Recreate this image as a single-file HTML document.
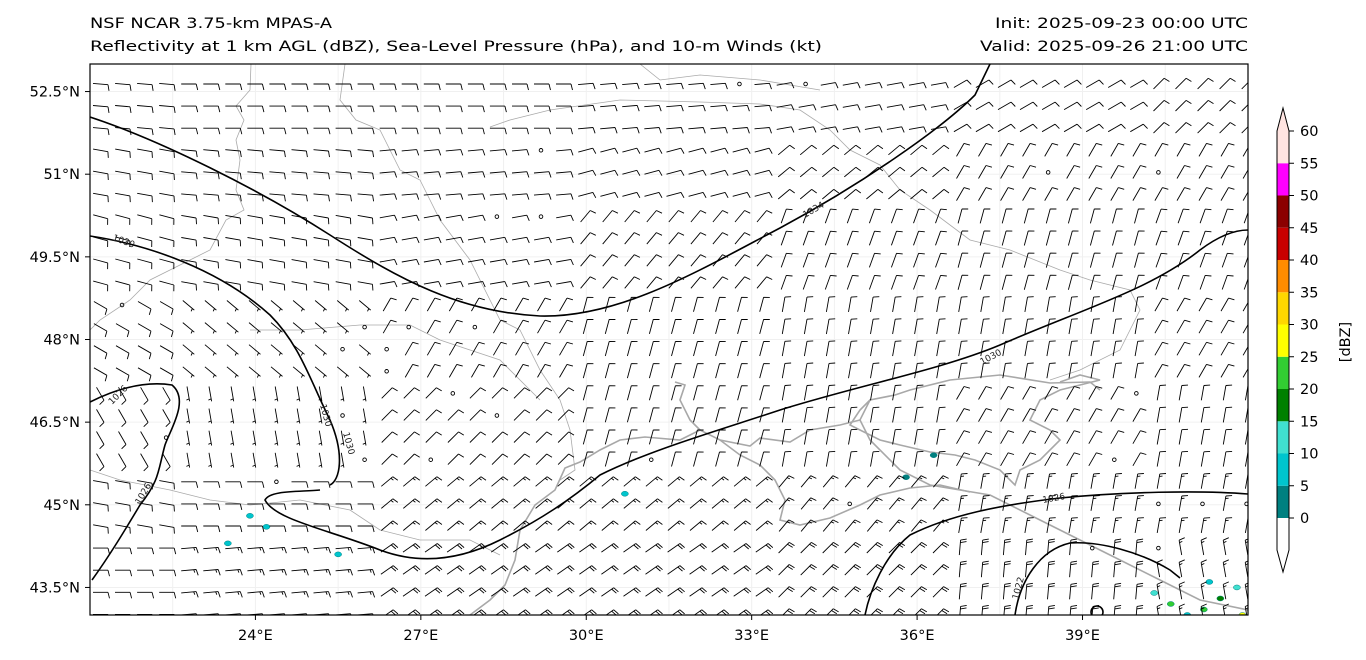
<!DOCTYPE html>
<html><head><meta charset="utf-8">
<style>
body{margin:0;background:#fff;width:1366px;height:660px;overflow:hidden;font-family:"DejaVu Sans","Liberation Sans",sans-serif}
svg{position:absolute;left:0;top:0}
text{font-family:"DejaVu Sans","Liberation Sans",sans-serif}
</style></head><body>
<svg id="s" width="1366" height="660">
<text x="90" y="28" font-size="14.5" textLength="242" lengthAdjust="spacingAndGlyphs">NSF NCAR 3.75-km MPAS-A</text>
<text x="90" y="51" font-size="14.5" textLength="732" lengthAdjust="spacingAndGlyphs">Reflectivity at 1 km AGL (dBZ), Sea-Level Pressure (hPa), and 10-m Winds (kt)</text>
<text x="995" y="28" font-size="14.5" textLength="253" lengthAdjust="spacingAndGlyphs">Init: 2025-09-23 00:00 UTC</text>
<text x="980" y="51" font-size="14.5" textLength="268" lengthAdjust="spacingAndGlyphs">Valid: 2025-09-26 21:00 UTC</text>
<defs><clipPath id="c"><rect x="90" y="64" width="1158" height="551"/></clipPath></defs>
<g id="grid" clip-path="url(#c)"></g>
<g clip-path="url(#c)" fill="none" stroke="#aaa" stroke-width="0.8">
<path d="M251,64 L250,90 L236,106 L244,120 L236,140 L240,160 L236,190 L244,210 L226,220 L210,250 L190,260 L150,280 L130,300 L100,320 L90,330"/>
<path d="M345,64 L340,100 L356,120 L380,130 L390,150 L400,170 L420,180 L430,200 L440,220 L470,260 L480,280 L500,320 L520,330 L540,370 L560,400 L570,430 L575,470 L560,480"/>
<path d="M490,127 L510,120 L550,110 L620,100 L700,102 L760,104 L800,110 L830,130 L850,150 L880,165 L900,190 L930,210 L970,240 L1010,250 L1060,270 L1090,280 L1130,290 L1140,310 L1130,330 L1120,350 L1080,370 L1050,380"/>
<path d="M640,64 L660,80 L700,75 L760,80 L820,90"/>
<path d="M90,470 L120,480 L170,490 L210,500 L250,505 L300,500 L350,510 L380,530 L420,540 L470,540 L500,555"/>
<path d="M250,330 L300,330 L360,325 L410,325 L440,340 L470,350 L500,360 L520,380 L540,400"/>
</g>
<g clip-path="url(#c)" fill="none" stroke="#a8a8a8" stroke-width="1.6">
<path d="M470,615 L490,600 L505,585 L515,560 L520,530 L535,505 L555,490 L565,468 L580,462 L600,450 L620,440 L645,437 L680,440 L700,430 L720,440 L750,446 L760,438 L790,442 L810,430 L840,425 L860,420 L870,400 L895,395 L910,390 L950,380 L1000,375 L1050,383 L1090,382 L1100,390"/>
<path d="M700,430 L690,420 L680,400 L685,385 L675,382"/>
<path d="M860,420 L870,440 L900,470 L930,485 L960,490 L990,495 L1010,505 L1040,520 L1080,540 L1120,560 L1160,580 L1200,600 L1248,610"/>
<path d="M720,440 L740,455 L760,465 L775,480 L785,500 L780,520 L800,525 L830,518 L860,505 L880,495 L910,488 L940,485 L970,492"/>
<path d="M870,400 L860,410 L850,425 L860,430 L880,440 L900,445 L930,452 L955,455 L975,460 L1000,470 L1015,485 L1020,470 L1040,460 L1060,440 L1050,430 L1030,420 L1040,400 L1060,390 L1080,385 L1100,380 L1080,375 L1060,382"/>
</g>
<g id="refl" clip-path="url(#c)"></g>
<g id="barbs" clip-path="url(#c)" stroke="#000" stroke-width="0.9" fill="none"></g>
<g clip-path="url(#c)" fill="none" stroke="#000" stroke-width="1.6">
<path d="M90,117 C160,140 260,190 330,235 C400,280 460,312 540,316 C620,318 700,270 780,228 C860,185 940,130 975,95 L990,64"/>
<path d="M90,236 C150,245 220,270 270,315 C300,345 310,380 330,420 C345,455 340,480 330,485 M320,490 C300,492 270,490 265,500 C275,520 330,530 380,550 C420,565 460,560 500,540 C540,520 570,500 600,475 C650,450 720,430 780,410 C860,385 940,370 1000,345 C1080,310 1150,290 1200,250 C1220,235 1235,230 1248,230"/>
<path d="M90,402 C110,392 140,380 172,385 C190,400 170,430 165,445 C158,470 160,480 140,505 C125,530 110,555 92,580"/>
<path d="M1248,494 C1200,490 1120,492 1060,498 C1000,505 950,515 910,535 C885,555 870,590 865,615"/>
<path d="M1015,615 C1020,580 1040,550 1070,543 C1100,541 1140,552 1170,570 L1180,578"/>
<circle cx="1097" cy="612" r="6"/>
</g>
<g font-size="9" fill="#222">
<text x="805" y="218" transform="rotate(-30 805 218)">1034</text>
<text x="112" y="240" transform="rotate(20 112 240)">1030</text>
<text x="982" y="365" transform="rotate(-28 982 365)">1030</text>
<text x="320" y="405" transform="rotate(75 320 405)">1030</text>
<text x="343" y="433" transform="rotate(75 343 433)">1030</text>
<text x="112" y="405" transform="rotate(-45 112 405)">1026</text>
<text x="140" y="505" transform="rotate(-60 140 505)">1026</text>
<text x="1043" y="503" transform="rotate(-10 1043 503)">1026</text>
<text x="1018" y="600" transform="rotate(-75 1018 600)">1022</text>
</g>
<rect x="90" y="64" width="1158" height="551" fill="none" stroke="#000" stroke-width="1.2"/>
<g id="axes" font-size="14.5"></g>
<g id="cbar"></g>
<text x="1350" y="342" font-size="14.5" text-anchor="middle" transform="rotate(-90 1350 342)">[dBZ]</text>
</svg>
<script>
const NS='http://www.w3.org/2000/svg';
const lonTicks=[24,27,30,33,36,39];
const latTicks=[52.5,51,49.5,48,46.5,45,43.5];
const cbLevels=[0,5,10,15,20,25,30,35,40,45,50,55,60];
const cbColors=['#008080','#00c5cd','#40e0d0','#008000','#32cd32','#ffff00','#ffd700','#ff8c00','#c80000','#8b0000','#ff00ff','#ffe4e1'];
const windDir=[
[95,90,90,85,80,60,45],
[100,95,85,75,50,30,30],
[105,100,80,40,20,15,20],
[120,130,30,15,10,10,30],
[150,170,45,15,10,30,10],
[100,90,50,50,40,10,10],
[90,85,55,55,45,5,350]];
const windSpd=[
[10,10,10,10,10,10,10],
[10,10,10,10,10,10,10],
[10,10,10,10,10,10,10],
[8,5,10,10,10,10,10],
[8,5,10,10,10,10,10],
[10,12,15,15,15,15,15],
[12,15,20,20,20,20,15]];
const calmLon=[21.4,25.8,26.6,25.5,26.2,28.0,26.3,28.2,27.4,28.4,24.2,22.2,25.6,26.0,27.0,31.2,32.6,29.1,28.5,38.3,40.2,39.8,41.0,41.8,40.5,39.2,29.2,26.0,39.5,40.3,34.1,34.9];
const calmLat=[48.8,48.2,48.2,47.8,47.8,48.1,47.4,46.8,46.9,46.5,45.6,46.4,46.5,46.0,45.9,45.7,52.6,51.5,50.2,50.9,50.9,47.1,45.0,45.0,44.2,44.3,50.2,45.8,45.7,45.0,52.6,44.9];
const cells=[[30.7,45.2,'#00c5cd'],[23.9,44.8,'#00c5cd'],[24.2,44.6,'#00c5cd'],[23.5,44.3,'#00c5cd'],[35.8,45.5,'#008080'],[36.3,45.9,'#008080'],[25.5,44.1,'#00c5cd'],
[40.3,43.4,'#40e0d0'],[40.6,43.2,'#32cd32'],[41.2,43.1,'#32cd32'],[41.5,43.3,'#008000'],[41.8,43.5,'#40e0d0'],[41.6,42.9,'#32cd32'],[41.9,43.0,'#ffff00'],[40.9,43.0,'#00c5cd'],[41.3,43.6,'#00c5cd']];
const X=lon=>90+(lon-21)*55.14, Y=lat=>64+(53-lat)*55.1;
function el(t,a,p){const e=document.createElementNS(NS,t);for(const k in a)e.setAttribute(k,a[k]);p.appendChild(e);return e;}
const g=document.getElementById('grid');
for(let lon=21;lon<=42;lon+=1.5){el('line',{x1:X(lon),x2:X(lon),y1:64,y2:615,stroke:'#f0f0f0','stroke-width':1},g);}
for(let lat=43;lat<=53;lat+=1.5){el('line',{x1:90,x2:1248,y1:Y(lat+0.5),y2:Y(lat+0.5),stroke:'#f0f0f0','stroke-width':1},g);}
const ax=document.getElementById('axes');
lonTicks.forEach(v=>{const x=X(v);
const t=el('line',{x1:x,x2:x,y1:615,y2:620,stroke:'#000'},ax);


const s=el('text',{x:x,y:640,'text-anchor':'middle'},ax);s.textContent=v+'°E';

});
latTicks.forEach(v=>{const y=Y(v);
const t=el('line',{x1:85,x2:90,y1:y,y2:y,stroke:'#000'},ax);


const s=el('text',{x:80,y:y+5,'text-anchor':'end'},ax);s.textContent=v+'°N';

});
const cb=document.getElementById('cbar');
const cy=v=>518-(v/5)*32.25;
el('polygon',{points:'1277,'+cy(0)+' 1289,'+cy(0)+' 1289,550 1283,572 1277,550',fill:'#fff'},cb);
for(let i=0;i<cbColors.length;i++){
const top=i==cbColors.length-1?130:cy(cbLevels[i+1]);
const r=el('rect',{x:1277,y:top,width:12,height:cy(cbLevels[i])-top,fill:cbColors[i]},cb);

}
el('polygon',{points:'1277,131 1283,108 1289,131',fill:'#ffe4e1'},cb);
el('polygon',{points:'1277,131 1283,108 1289,131 1289,550 1283,572 1277,550',fill:'none',stroke:'#000','stroke-width':1},cb);
cbLevels.forEach(v=>{const y=cy(v);el('line',{x1:1289,x2:1294,y1:y,y2:y,stroke:'#000'},cb);
const t=el('text',{x:1300,y:y+5,'font-size':14.5},cb);t.textContent=v;

});
const rf=document.getElementById('refl');
cells.forEach(c=>{const e=el('ellipse',{cx:X(c[0]),cy:Y(c[1]),rx:3.5,ry:2.5,fill:c[2],stroke:'#008080','stroke-width':0.5},rf);

});
const bg=document.getElementById('barbs');
const calmPts=calmLon.map((v,i)=>[X(v),Y(calmLat[i])]);
for(let r=0;r<25;r++)for(let c=0;c<53;c++){
const px=100+c*22.05, py=84+r*22.1;
if(calmPts.some(p=>Math.abs(p[0]-px)<11&&Math.abs(p[1]-py)<11)){
const o=el('circle',{cx:px,cy:py,r:1.8},bg);

continue;}
const lat=53-(py-64)/55.1, lon=21+(px-90)/55.14;
const ri=Math.min(6,Math.max(0,Math.round((52.5-lat)/1.5))), ci=Math.min(6,Math.max(0,Math.round((lon-21)/3.5)));
const d=windDir[ri][ci]*Math.PI/180, sp=windSpd[ri][ci];
const ux=Math.sin(d), uy=-Math.cos(d);
const sx0=px-ux*7, sy0=py-uy*7;
const tx=px+ux*8, ty=py+uy*8;
let p='M'+sx0.toFixed(1)+','+sy0.toFixed(1)+'L'+tx.toFixed(1)+','+ty.toFixed(1);
const bx=-uy, by=ux;
let n=Math.round(sp/5), k=0;
while(n>=2){const sx=tx-ux*k*2.5, sy=ty-uy*k*2.5;
p+='M'+sx.toFixed(1)+','+sy.toFixed(1)+'l'+(bx*6+ux*1.5).toFixed(1)+','+(by*6+uy*1.5).toFixed(1);n-=2;k++;}
if(n==1){const off=k==0?2.5:k*2.5;const sx=tx-ux*off, sy=ty-uy*off;
p+='M'+sx.toFixed(1)+','+sy.toFixed(1)+'l'+(bx*3+ux*0.8).toFixed(1)+','+(by*3+uy*0.8).toFixed(1);}
const b=el('path',{d:p},bg);

}
</script>
</body></html>
